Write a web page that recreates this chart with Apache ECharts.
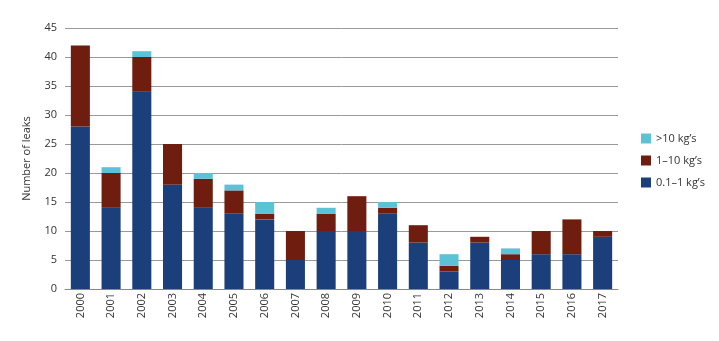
<!DOCTYPE html>
<html>
<head>
<meta charset="utf-8">
<script src="https://cdn.jsdelivr.net/npm/echarts@6/dist/echarts.min.js"></script>
<style>html,body{margin:0;padding:0;background:#fff;}#c{width:719px;height:341px;}</style>
</head>
<body>
<div id="c"></div>
<script>
const years = ['2000','2001','2002','2003','2004','2005','2006','2007','2008','2009','2010','2011','2012','2013','2014','2015','2016','2017'];
const small = [28,14,34,18,14,13,12,5,10,10,13,8,3,8,5,6,6,9];
const medium = [14,6,6,7,5,4,1,5,3,6,1,3,1,1,1,4,6,1];
const large = [0,1,1,0,1,1,2,0,1,0,1,0,2,0,1,0,0,0];
const yTicks = [0,5,10,15,20,25,30,35,40,45];
const names = ['0.1–1 kg’s','1–10 kg’s','>10 kg’s'];
const colors = ['#1b3f7a','#6e1d0e','#5cc2d6'];
const font = 'Open Sans';

const chart = echarts.init(document.getElementById('c'));
chart.setOption({
  animation: false,
  textStyle: {fontFamily: font},
  grid: {left: 65, right: 101, top: 28, bottom: 52},
  legend: {
    data: [names[2], names[1], names[0]],
    orient: 'vertical',
    left: 636, top: 128,
    itemWidth: 10, itemHeight: 10, itemGap: 11,
    icon: 'rect',
    textStyle: {fontSize: 11, color: '#333', fontFamily: font}
  },
  xAxis: {
    type: 'category',
    data: years,
    axisTick: {show: false},
    axisLine: {lineStyle: {color: '#888', width: 1}},
    axisLabel: {rotate: 90, fontSize: 11, color: '#333', margin: 4, fontFamily: font}
  },
  yAxis: {
    type: 'value',
    min: yTicks[0], max: yTicks[yTicks.length-1], interval: 5,
    name: 'Number of leaks',
    nameLocation: 'middle',
    nameGap: 33,
    nameTextStyle: {fontSize: 11, color: '#333', fontFamily: font},
    axisLabel: {fontSize: 11, color: '#333', margin: 8, fontFamily: font},
    splitLine: {lineStyle: {color: '#999', width: 1}},
    axisLine: {show: false}, axisTick: {show: false}
  },
  series: [
    {name: names[0], type: 'bar', stack: 's', data: small, itemStyle: {color: colors[0]}, barCategoryGap: '38%'},
    {name: names[1], type: 'bar', stack: 's', data: medium, itemStyle: {color: colors[1]}},
    {name: names[2], type: 'bar', stack: 's', data: large, itemStyle: {color: colors[2]}}
  ]
});
</script>
</body>
</html>
